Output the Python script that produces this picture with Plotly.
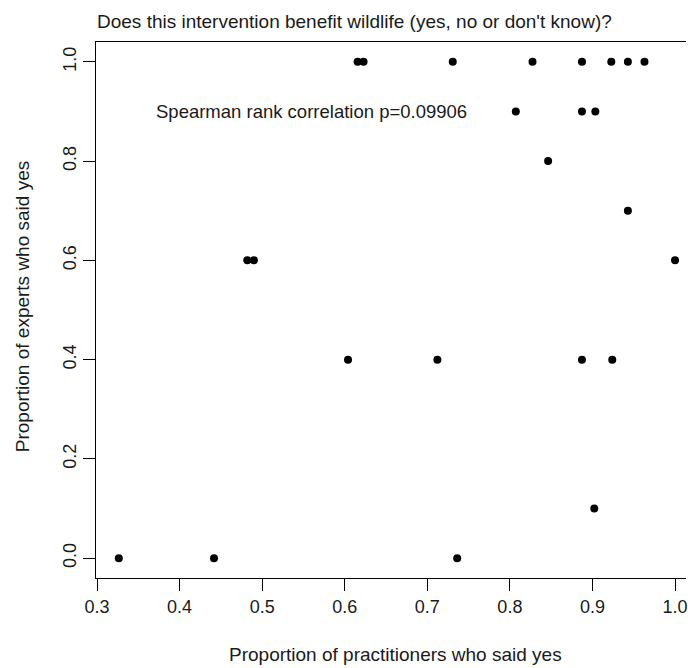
import plotly.graph_objects as go

# Data
practitioners_yes = [0.3264, 0.4417, 0.7362,
                     0.9022,
                     0.6040, 0.7122, 0.8873, 0.9240,
                     0.4820, 0.4900, 1.0,
                     0.9429,
                     0.8463,
                     0.8072, 0.8873, 0.9035,
                     0.6156, 0.6228, 0.7308, 0.8274, 0.8873, 0.9228, 0.9429, 0.9630]
experts_yes = [0.0, 0.0, 0.0,
               0.1,
               0.4, 0.4, 0.4, 0.4,
               0.6, 0.6, 0.6,
               0.7,
               0.8,
               0.9, 0.9, 0.9,
               1.0, 1.0, 1.0, 1.0, 1.0, 1.0, 1.0, 1.0]

x_ticks = [0.3, 0.4, 0.5, 0.6, 0.7, 0.8, 0.9, 1.0]
x_ticklabels = ["0.3", "0.4", "0.5", "0.6", "0.7", "0.8", "0.9", "1.0"]
y_ticks = [0.0, 0.2, 0.4, 0.6, 0.8, 1.0]
y_ticklabels = ["0.0", "0.2", "0.4", "0.6", "0.8", "1.0"]

title_text = "Does this intervention benefit wildlife (yes, no or don't know)?"
x_title = "Proportion of practitioners who said yes"
y_title = "Proportion of experts who said yes"
annotation_text = "Spearman rank correlation p=0.09906"

FONT = "Liberation Sans, Arial, sans-serif"
TXT = "#1a1a1a"

W, H = 688, 668
L, T, B = 96, 42, 90
px_per_x = 580 / 0.7
x0 = 0.3 - 1 / px_per_x * 1
x1 = x0 + (W - L) / px_per_x

fig = go.Figure()
fig.add_trace(go.Scatter(
    x=practitioners_yes, y=experts_yes, mode="markers",
    marker=dict(color="black", size=8, line=dict(width=0)),
    showlegend=False, hoverinfo="skip"))

fig.update_layout(
    width=W, height=H,
    margin=dict(l=L, r=0, t=T, b=B, pad=0),
    paper_bgcolor="white", plot_bgcolor="white",
    font=dict(family=FONT, size=18, color=TXT),
    title=dict(text=title_text, x=97 / W, xanchor="left", xref="container",
               y=1 - 21 / H, yanchor="middle", yref="container",
               font=dict(family=FONT, size=19, color=TXT)),
    xaxis=dict(range=[x0, x1], tickvals=x_ticks, ticktext=x_ticklabels,
               showgrid=False, zeroline=False, showline=True, mirror=True,
               linecolor="black", linewidth=1, ticks="outside", ticklen=12,
               tickcolor="black", tickwidth=1, ticklabeloverflow="allow",
               tickfont=dict(size=18, color=TXT)),
    yaxis=dict(range=[-0.04, 1.04], tickvals=y_ticks, ticktext=y_ticklabels,
               showgrid=False, zeroline=False, showline=True, mirror=False,
               linecolor="black", linewidth=1, ticks="outside", ticklen=12,
               tickcolor="black", tickwidth=1, tickangle=-90,
               tickfont=dict(size=18, color=TXT)),
    annotations=[
        dict(text=x_title, xref="x", x=x0 + (397 - L) / px_per_x, yref="paper",
             y=(578 - 655) / 536, xanchor="center", yanchor="middle",
             showarrow=False, font=dict(size=19, color=TXT)),
        dict(text=y_title, xref="paper", x=(22 - L) / (W - L), yref="paper",
             y=(578 - 306) / 536, xanchor="center", yanchor="middle",
             textangle=-90, showarrow=False, font=dict(size=19, color=TXT)),
        dict(text=annotation_text, xref="x", x=0.56, yref="y", y=0.9,
             xanchor="center", yanchor="middle", showarrow=False,
             font=dict(size=18.5, color=TXT)),
    ],
)

fig.write_html("out.html")
